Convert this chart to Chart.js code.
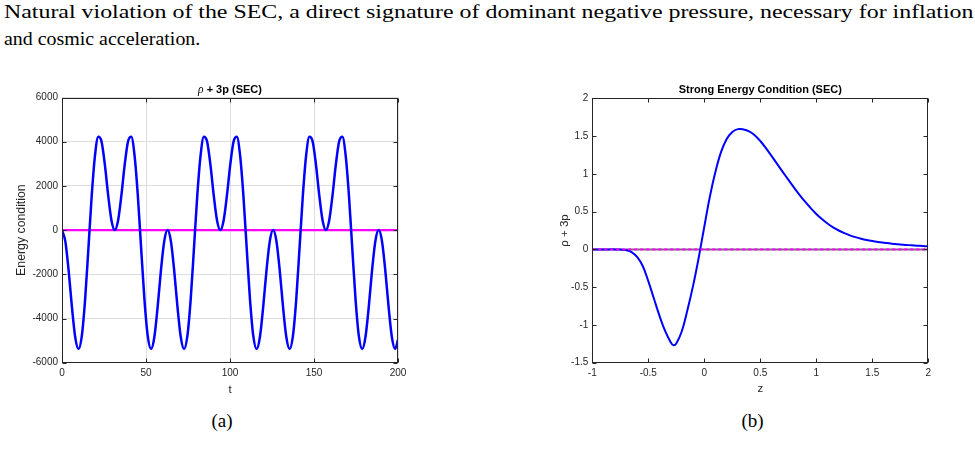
<!DOCTYPE html>
<html><head><meta charset="utf-8">
<script src="https://cdn.jsdelivr.net/npm/chart.js@4"></script>
<style>
html,body{margin:0;padding:0;background:#fff;}
body{width:975px;height:457px;position:relative;overflow:hidden;}
.txt{position:absolute;font-family:"Liberation Serif","Times New Roman",serif;font-size:19px;line-height:19px;color:#000;white-space:nowrap;transform-origin:0 0;}
.cap{position:absolute;width:100px;text-align:center;font-family:"Liberation Serif","Times New Roman",serif;font-size:19px;line-height:19px;color:#000;}
canvas{position:absolute;}
</style></head><body>
<div id="l1" class="txt" style="left:4px;top:2px;">Natural violation of the SEC, a direct signature of dominant negative pressure, necessary for inflation</div>
<div id="l2" class="txt" style="left:4px;top:29px;">and cosmic acceleration.</div>
<div class="cap" style="left:172px;top:411px;">(a)</div>
<div class="cap" style="left:702.5px;top:411px;">(b)</div>
<div style="position:absolute;left:0;top:70px;width:440px;height:340px;"><canvas id="cA" width="440" height="340" style="left:0;top:0;width:440px;height:340px;"></canvas></div>
<div style="position:absolute;left:520px;top:70px;width:455px;height:340px;"><canvas id="cB" width="455" height="340" style="left:0;top:0;width:455px;height:340px;"></canvas></div>
<script>
// ---------- data (a) ----------
const tA = [0,1.96,3.93,5.89,7.85,9.82,11.78,13.74,15.71,17.67,19.63,21.60,23.56,25.53,27.49,29.45,
31.42,33.38,35.34,37.31,39.27,41.23,43.20,45.16,47.12,49.09,51.05,53.01,54.98,56.94,58.90,60.87,
62.83,64.80,66.76,68.72,70.69,72.65,74.61,76.58,78.54,80.50,82.47,84.43,86.39,88.36,90.32,92.28,
94.25,96.21,98.17,100.14,102.10,104.07,106.03,107.99,109.96,111.92,113.88,115.85,117.81,119.77,121.74,123.70,
125.66,127.63,129.59,131.55,133.52,135.48,137.44,139.41,141.37,143.34,145.30,147.26,149.23,151.19,153.15,155.12,
157.08,159.04,161.01,162.97,164.93,166.90,168.86,170.82,172.79,174.75,176.71,178.68,180.64,182.61,184.57,186.53,
188.50,190.46,192.42,194.39,196.35,198.31,200];
const secA = [0,-499,-1814,-3467,-4839,-5382,-4800,-3154,-840,1538,3366,4220,3999,2949,1568,435,
0,435,1568,2949,3999,4220,3366,1538,-840,-3154,-4800,-5382,-4839,-3467,-1814,-499,
0,-499,-1814,-3467,-4839,-5382,-4800,-3154,-840,1538,3366,4220,3999,2949,1568,435,
0,435,1568,2949,3999,4220,3366,1538,-840,-3154,-4800,-5382,-4839,-3467,-1814,-499,
0,-499,-1814,-3467,-4839,-5382,-4800,-3154,-840,1538,3366,4220,3999,2949,1568,435,
0,435,1568,2949,3999,4220,3366,1538,-840,-3154,-4800,-5382,-4839,-3467,-1814,-499,
0,-499,-1814,-3467,-4839,-5382,-4952];
const zeroA = [0,0];
const zeroAx = [0,200];
const xTicksA = [0,50,100,150,200];
const yTicksA = [-6000,-4000,-2000,0,2000,4000,6000];

// ---------- data (b) ----------
const zB = [-1,-0.95,-0.9,-0.85,-0.8,-0.75,-0.7,-0.65,-0.6,-0.55,-0.5,-0.45,-0.4,-0.35,-0.3,-0.275,-0.25,-0.2,-0.15,-0.1,-0.05,
0,0.05,0.1,0.15,0.2,0.25,0.3,0.35,0.4,0.45,0.5,0.55,0.6,0.65,0.7,0.75,0.8,0.85,0.9,0.95,
1,1.05,1.1,1.15,1.2,1.25,1.3,1.35,1.4,1.45,1.5,1.55,1.6,1.65,1.7,1.75,1.8,1.85,1.9,1.95,2];
const secB = [0,0,0,0,0,-0.003,-0.01,-0.035,-0.1,-0.22,-0.42,-0.65,-0.88,-1.08,-1.23,-1.27,-1.245,-1.08,-0.8,-0.48,-0.11,
0.30,0.70,1.03,1.29,1.46,1.555,1.592,1.588,1.563,1.512,1.435,1.34,1.237,1.132,1.027,0.923,0.821,0.723,0.631,0.546,
0.469,0.401,0.342,0.292,0.25,0.215,0.186,0.162,0.142,0.125,0.111,0.099,0.089,0.08,0.072,0.065,0.059,0.054,0.049,0.045,0.041];
const zeroB = [0,0];
const zeroBx = [-1,2];
const xTicksB = [-1,-0.5,0,0.5,1,1.5,2];
const yTicksB = [-1.5,-1,-0.5,0,0.5,1,1.5,2];

// ---------- top text fit ----------
(function(){const e1=document.getElementById('l1'), e2=document.getElementById('l2');
 e1.style.transform='scaleX('+(969/e1.offsetWidth)+')'; e2.style.transform='scaleX('+(196/e2.offsetWidth)+')';})();

const SANS = '"Liberation Sans", Arial, Helvetica, sans-serif';
const AX = '#262626';

const boxPlugin = {
  id: 'mbox',
  afterDatasetsDraw(chart, args, opts) {
    const {ctx, chartArea: a, scales: {x, y}} = chart;
    ctx.save();
    ctx.strokeStyle = AX; ctx.lineWidth = 1;
    const L = Math.round(a.left) + 0.5, R = Math.round(a.right) - 0.5;
    const T = Math.round(a.top) + 0.5, B = Math.round(a.bottom) - 0.5;
    ctx.strokeRect(L, T, R - L, B - T);
    const tl = 4;
    ctx.beginPath();
    x.ticks.forEach(t => { const p = Math.round(x.getPixelForValue(t.value)) + 0.5;
      ctx.moveTo(p, B); ctx.lineTo(p, B - tl); ctx.moveTo(p, T); ctx.lineTo(p, T + tl); });
    y.ticks.forEach(t => { const p = Math.round(y.getPixelForValue(t.value)) + 0.5;
      ctx.moveTo(L, p); ctx.lineTo(L + tl, p); ctx.moveTo(R, p); ctx.lineTo(R - tl, p); });
    ctx.stroke();
    const parts = opts.parts;
    ctx.fillStyle = '#000'; ctx.textBaseline = 'middle'; ctx.textAlign = 'left';
    let total = 0;
    parts.forEach(p => { ctx.font = p.font; p.w = ctx.measureText(p.text).width; total += p.w; });
    let cx = (a.left + a.right) / 2 - total / 2;
    const cy = a.top - opts.dy;
    parts.forEach(p => { ctx.font = p.font; ctx.fillText(p.text, cx, cy); cx += p.w; });
    ctx.restore();
  }
};

function axis(min, max, ticksArr, size, isX, title, tsize, tpad, grid) {
  const o = {
    type: 'linear', min, max,
    afterBuildTicks: s => { s.ticks = ticksArr.map(v => ({value: v})); },
    grid: {display: grid, drawTicks: false, color: '#dedede', lineWidth: 1},
    border: {display: false},
    ticks: {color: AX, font: {family: SANS, size: 10}, padding: isX ? 5 : 4, autoSkip: false, maxRotation: 0,
      callback: v => String(v)},
    title: {display: true, text: title, color: AX, font: {family: SANS, size: tsize}, padding: tpad}
  };
  if (isX) o.afterFit = s => { s.height = size; }; else o.afterFit = s => { s.width = size; };
  return o;
}

const pts = (xs, ys) => xs.map((v, i) => ({x: v, y: ys[i]}));

new Chart(document.getElementById('cA'), {
  type: 'line',
  data: {datasets: [
    {data: pts(tA, secA), borderColor: '#0000ff', borderWidth: 2.5, pointRadius: 0, cubicInterpolationMode: 'monotone', order: 1},
    {data: pts(zeroAx, zeroA), borderColor: '#ff00ff', borderWidth: 2.2, pointRadius: 0, order: 2}
  ]},
  options: {
    responsive: false, animation: false, devicePixelRatio: 1,
    layout: {padding: {left: 0, top: 27.5, right: 42, bottom: 7.3}},
    plugins: {legend: {display: false}, tooltip: {enabled: false},
      mbox: {dy: 7.5, parts: [{text: 'ρ', font: 'italic 11.5px "Liberation Serif", serif'}, {text: ' + 3p (SEC)', font: 'bold 11px ' + SANS}]}},
    scales: {
      x: axis(0, 200, xTicksA, 40, true, 't', 11.5, {top: 0, bottom: 6}, true),
      y: axis(-6000, 6000, yTicksA, 62, false, 'Energy condition', 12.3, {top: 14.3, bottom: 0}, true)
    }
  },
  plugins: [boxPlugin]
});

new Chart(document.getElementById('cB'), {
  type: 'line',
  data: {datasets: [
    {data: pts(zeroBx, zeroB), borderColor: '#ff00ff', borderWidth: 2, borderDash: [3, 3], pointRadius: 0, order: 1},
    {data: pts(zB, secB), borderColor: '#0000ff', borderWidth: 2, pointRadius: 0, tension: 0.4, order: 2},
    {data: pts(zeroBx, zeroB), borderColor: '#86608a', borderWidth: 2, pointRadius: 0, order: 3}
  ]},
  options: {
    responsive: false, animation: false, devicePixelRatio: 1,
    layout: {padding: {left: 0, top: 28.3, right: 46.7, bottom: 7.3}},
    plugins: {legend: {display: false}, tooltip: {enabled: false},
      mbox: {dy: 8.3, parts: [{text: 'Strong Energy Condition (SEC)', font: 'bold 11px ' + SANS}]}},
    scales: {
      x: axis(-1, 2, xTicksB, 40, true, 'z', 11.5, {top: 0, bottom: 7}, false),
      y: axis(-1.5, 2, yTicksB, 72.3, false, 'ρ + 3p', 11.5, {top: 37.7, bottom: 0}, false)
    }
  },
  plugins: [boxPlugin]
});
</script>
</body></html>
